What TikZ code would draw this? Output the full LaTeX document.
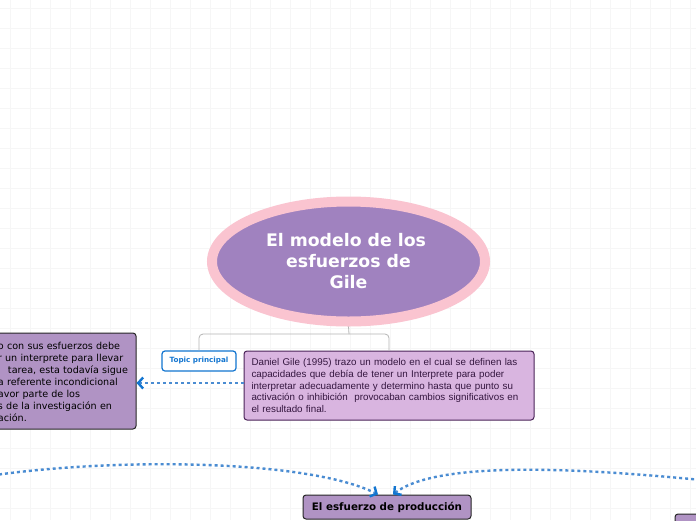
\documentclass[tikz,border=0pt]{standalone}
\usepackage{xcolor}
\usepackage{fontspec}
\usepackage{tikz}
\usetikzlibrary{arrows.meta,shapes.geometric,positioning}
\newfontfamily\dejafont{DejaVu Sans}
\newfontfamily\arialfont{Liberation Sans}
\definecolor{gridgray}{HTML}{F6F6F6}
\definecolor{linkgray}{HTML}{B4B4B4}
\definecolor{rimpink}{HTML}{FAC4D0}
\definecolor{mainpurple}{HTML}{A082BF}
\definecolor{boxpurple}{HTML}{B093C4}
\definecolor{lightpurple}{HTML}{D9B5E0}
\definecolor{gileborder}{HTML}{4A2358}
\definecolor{giletext}{HTML}{34163F}
\definecolor{linkblue}{HTML}{4A8CD2}
\definecolor{tipblue}{HTML}{1275D0}
\begin{document}
\begin{tikzpicture}[
				x = 1pt,
				y = -1pt,
				central/.style = {ellipse,draw=rimpink,fill=mainpurple,line width=10pt,minimum width=273pt,minimum height=120pt,inner sep=0pt,align=center,text=white,font=\dejafont\bfseries\fontsize{17.3}{21}\selectfont},
				darkbox/.style = {rectangle,rounded corners=3pt,draw=black!85,fill=boxpurple,line width=1pt,inner sep=0pt},
				linkline/.style = {draw=linkgray,line width=.8pt,rounded corners=4pt},
				dotlink/.style = {draw=linkblue,line width=2.4pt,dash pattern=on 3pt off 3pt,-{Straight Barb[length=5pt,width=11pt,line width=2.4pt,color=tipblue]}}
			]

			\useasboundingbox (0,0) rectangle (696,520);
			\clip (0,0) rectangle (696,520);
			\fill[white] (0,0) rectangle (696,520);

			\foreach \gx in {10,30,...,690} \draw[gridgray,line width=.7pt] (\gx,0) -- (\gx,520);
			\foreach \gy in {8,28,...,518} \draw[gridgray,line width=.7pt] (0,\gy) -- (696,\gy);

			\node[central] (modelo) at (348.5,261.5) {El modelo de los\hspace*{5pt}\\esfuerzos de\hspace*{10pt}\\Gile};

			\node[rectangle,rounded corners=3pt,draw=tipblue,fill=white,line width=1.2pt,minimum width=74pt,minimum height=20pt,inner sep=0pt,text=tipblue,font=\dejafont\bfseries\fontsize{7.2}{9}\selectfont] (topic) at (199,361) {Topic principal};

			\node[darkbox,draw=gileborder,fill=lightpurple,minimum width=290pt,minimum height=69pt,text width=275pt,align=left,text=giletext,font=\arialfont\fontsize{9.8}{11.6}\selectfont] (gile) at (389,385.5) {Daniel Gile (1995) trazo un modelo en el cual se definen las\\capacidades que debía de tener un Interprete para poder\\interpretar adecuadamente y determino hasta que punto su\\activación o inhibición\ \ provocaban cambios significativos en\\el resultado final.};

			\node[darkbox,minimum width=216pt,minimum height=96pt,text width=210pt,align=left,font=\dejafont\fontsize{9.6}{12}\selectfont] (esfuerzos) at (28,381) {\rule{0pt}{10pt}\hspace*{75pt}o con sus esfuerzos debe\\\hspace*{75pt}r un interprete para llevar\\\hspace*{85pt}tarea, esta todavía sigue\\\hspace*{75pt}a referente incondicional\\\hspace*{75pt}avor parte de los\\\hspace*{75pt}s de la investigación en\\\hspace*{75pt}ación.};

			\node[darkbox,minimum width=168pt,minimum height=24pt,font=\dejafont\bfseries\fontsize{10.3}{12}\selectfont] (produccion) at (387,507) {El esfuerzo de producción};

			\node[darkbox,minimum width=40pt,minimum height=30pt] (otro) at (695,529) {};

			\coordinate (izquierda) at (-60,485);
			\coordinate (derecha) at (712,481);
			\coordinate (bifurca) at (349,334);

			\draw[linkline] (modelo.south) -- (bifurca);
			\draw[linkline] (bifurca) -| (topic.north);
			\draw[linkline] (bifurca) -| (gile.north);

			\draw[dotlink] ([yshift=2.5pt]gile.west) -- ([yshift=-2pt]esfuerzos.east);
			\draw[dotlink] (izquierda) .. controls (60,457) and (300,455) .. ([xshift=-9pt]produccion.north);
			\draw[dotlink] (derecha) .. controls (600,470) and (440,458) .. ([xshift=6pt]produccion.north);

			\end{tikzpicture}
\end{document}
